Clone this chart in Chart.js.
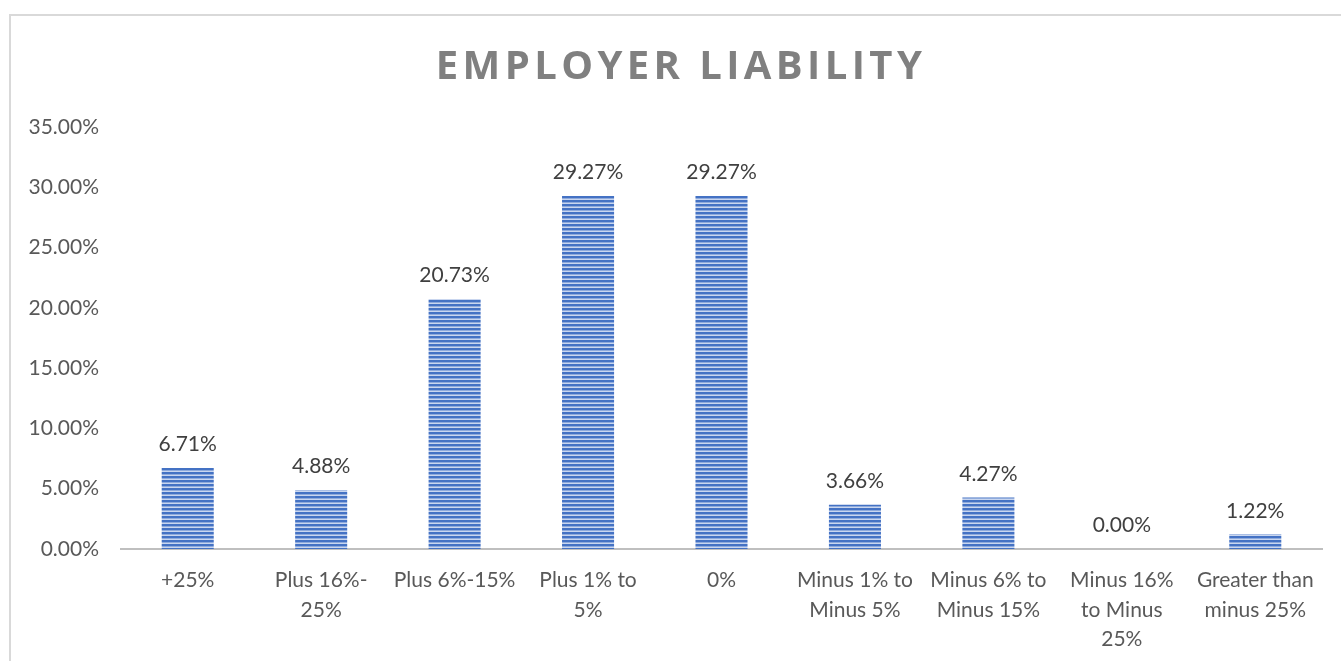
<!DOCTYPE html>
<html>
<head>
<meta charset="utf-8">
<script src="https://cdn.jsdelivr.net/npm/chart.js@4.4.1/dist/chart.umd.min.js"></script>
<style>
  html, body { margin: 0; padding: 0; background: #fff; }
  #wrap { width: 1341px; height: 661px; position: relative; }
</style>
</head>
<body>
<div id="wrap"><canvas id="chart" width="1341" height="661"></canvas></div>
<script>
// chart data
const titleText = 'EMPLOYER LIABILITY';
const categories = [
  ['+25%'],
  ['Plus 16%-', '25%'],
  ['Plus 6%-15%'],
  ['Plus 1% to', '5%'],
  ['0%'],
  ['Minus 1% to', 'Minus 5%'],
  ['Minus 6% to', 'Minus 15%'],
  ['Minus 16%', 'to Minus', '25%'],
  ['Greater than', 'minus 25%']
];
const shares = [6.71, 4.88, 20.73, 29.27, 29.27, 3.66, 4.27, 0.00, 1.22];
const yTicks = [0, 5, 10, 15, 20, 25, 30, 35];

const FONT = 'Lato, "Open Sans", sans-serif';

// horizontal stripe fill like the excel pattern
function stripes() {
  const c = document.createElement('canvas');
  c.width = 4; c.height = 4;
  const g = c.getContext('2d');
  g.fillStyle = '#4472c4'; g.fillRect(0, 0, 4, 2);
  g.fillStyle = '#8eaadc'; g.fillRect(0, 2, 4, 1);
  g.fillStyle = '#c9d6ef'; g.fillRect(0, 3, 4, 1);
  return g.createPattern(c, 'repeat');
}

const frame = {
  id: 'frame',
  beforeDraw(chart) {
    const ctx = chart.ctx;
    ctx.save();
    ctx.strokeStyle = '#d9d9d9';
    ctx.lineWidth = 2;
    ctx.beginPath();
    ctx.moveTo(10, chart.height + 5);
    ctx.lineTo(10, 15);
    ctx.lineTo(chart.width + 5, 15);
    ctx.stroke();

    // title
    ctx.fillStyle = '#808080';
    ctx.font = 'bold 40px "Open Sans", sans-serif';
    ctx.letterSpacing = '4.4px';
    ctx.textAlign = 'center';
    ctx.textBaseline = 'middle';
    ctx.fillText(titleText, 681, 68);
    ctx.restore();
  }
};

const valueLabels = {
  id: 'valueLabels',
  afterDatasetsDraw(chart) {
    const ctx = chart.ctx;
    const meta = chart.getDatasetMeta(0);
    ctx.save();
    ctx.fillStyle = '#404040';
    ctx.font = '21px ' + FONT;
    ctx.textAlign = 'center';
    ctx.textBaseline = 'bottom';
    meta.data.forEach((bar, i) => {
      ctx.fillText(shares[i].toFixed(2) + '%', bar.x, bar.y - 13);
    });
    ctx.restore();
  }
};

new Chart(document.getElementById('chart'), {
  type: 'bar',
  data: {
    labels: categories,
    datasets: [{
      data: shares,
      backgroundColor: stripes(),
      borderWidth: 0,
      categoryPercentage: 1,
      barPercentage: 0.39
    }]
  },
  options: {
    responsive: false,
    animation: false,
    events: [],
    layout: { padding: { top: 127, right: 19, left: 0, bottom: 0 } },
    plugins: {
      legend: { display: false },
      title: { display: false },
      tooltip: { enabled: false }
    },
    scales: {
      x: {
        grid: { display: false, drawTicks: false },
        border: { display: true, color: '#bfbfbf', width: 2 },
        ticks: {
          color: '#595959',
          font: { family: FONT, size: 21, lineHeight: 1.4 },
          padding: 17,
          maxRotation: 0,
          autoSkip: false
        },
        afterFit(s) { s.height = 112; }
      },
      y: {
        min: 0,
        max: 35,
        grid: { display: false, drawTicks: false },
        border: { display: false },
        afterBuildTicks(s) { s.ticks = yTicks.map(v => ({ value: v })); },
        ticks: {
          color: '#595959',
          font: { family: FONT, size: 21 },
          padding: 22,
          callback: v => v.toFixed(2) + '%'
        },
        afterFit(s) { s.width = 121; }
      }
    }
  },
  plugins: [frame, valueLabels]
});
</script>
</body>
</html>
